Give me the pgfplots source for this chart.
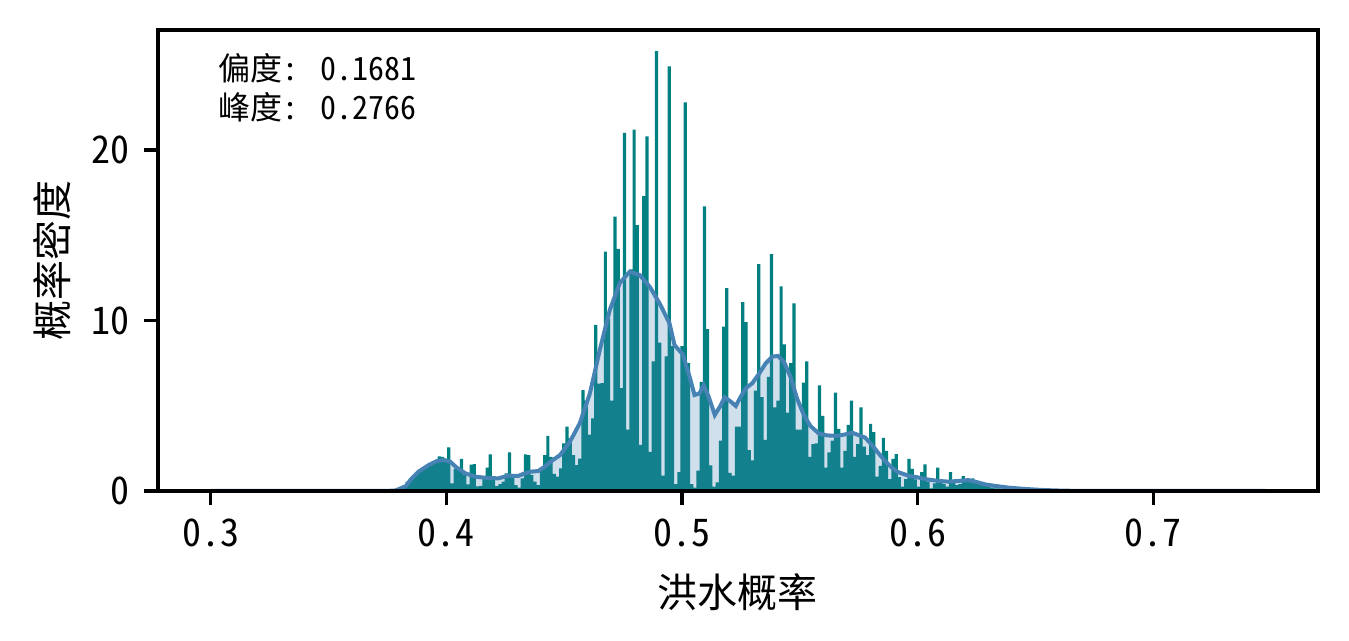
\documentclass[border=0pt]{standalone}
\usepackage{pgfplots}
\pgfplotsset{compat=1.18}
\usepackage{pgfplotstable}
\usepackage{fontspec}
\setmainfont{Noto Sans CJK SC}[RawFeature=+hwid]
\definecolor{barteal}{RGB}{0,128,128}
\definecolor{steel}{RGB}{70,130,180}

% histogram bins: bin index i (bin width 0.00135606 starting at 0.3), density h
\pgfplotstableread{
i h
58 0.1
59 0.2
60 0.35
61 0.55
62 0.75
63 0.9
64 1.0
65 1.17
66 1.3
67 1.43
68 1.62
69 1.65
70 1.72
71 2.03
72 2.0
73 1.9
74 2.56
75 0.45
76 1.3
77 1.35
78 1.88
79 0.94
80 0.39
81 1.55
82 1.58
83 0.27
84 0.3
85 0.74
86 1.37
87 2.15
88 0.65
89 0.29
90 0.4
91 0.55
92 1.04
93 2.27
94 0.94
95 0.35
96 0.2
97 0.74
98 2.15
99 2.11
100 0.94
101 0.55
102 0.35
103 1.23
104 2.11
105 3.23
106 2.0
107 1.0
108 0.85
109 1.33
110 2.8
111 3.77
112 3.09
113 2.1
114 1.52
115 1.9
116 5.92
117 5.3
118 3.3
119 4.26
120 9.74
121 6.3
122 6.32
123 14.04
124 10.1
125 5.3
126 16.1
127 14.2
128 6.03
129 21.0
130 3.6
131 13.0
132 21.2
133 15.6
134 2.7
135 17.3
136 20.8
137 2.3
138 7.6
139 25.8
140 8.7
141 0.9
142 7.9
143 24.9
144 8.5
145 0.4
146 1.1
147 8.5
148 22.8
149 7.5
150 0.4
151 0.2
152 1.2
153 6.4
154 16.7
155 9.5
156 1.5
157 0.25
158 0.5
159 2.95
160 9.64
161 11.9
162 1.07
163 0.9
164 3.77
165 3.77
166 11.08
167 9.9
168 2.4
169 1.8
170 5.88
171 13.3
172 5.5
173 3.0
174 6.7
175 13.9
176 4.9
177 5.3
178 12.0
179 8.6
180 4.6
181 7.5
182 11.0
183 3.6
184 3.6
185 6.35
186 7.6
187 2.0
188 2.75
189 2.8
190 6.2
191 4.4
192 1.37
193 2.26
194 2.96
195 5.77
196 3.64
197 1.37
198 2.36
199 3.88
200 5.3
201 2.0
202 2.75
203 4.9
204 2.6
205 2.1
206 3.93
207 3.46
208 0.84
209 1.48
210 3.11
211 2.35
212 0.7
213 1.88
214 2.17
215 0.82
216 0.25
217 0.7
218 1.88
219 1.3
220 0.68
221 0.25
222 1.1
223 1.56
224 0.55
225 0.16
226 0.45
227 1.37
228 0.55
229 0.4
230 0.25
231 1.1
232 0.55
233 0.35
234 0.4
235 0.87
236 0.64
237 0.64
238 0.74
239 0.64
240 0.55
241 0.4
242 0.3
243 0.25
244 0.2
245 0.15
246 0.15
247 0.12
248 0.1
249 0.08
250 0.07
251 0.06
252 0.05
253 0.04
254 0.04
255 0.03
256 0.03
257 0.02
258 0.02
}\bins

% kernel density curve
\pgfplotstableread{
x y
0.3000 0
0.3741 0
0.3783 0.03
0.3826 0.26
0.3854 0.75
0.3882 1.14
0.3925 1.52
0.3960 1.76
0.3988 1.82
0.4016 1.72
0.4044 1.37
0.4080 1.04
0.4122 0.84
0.4164 0.78
0.4220 0.74
0.4263 0.90
0.4305 0.88
0.4333 1.04
0.4361 1.14
0.4390 1.17
0.4418 1.43
0.4446 1.76
0.4482 2.10
0.4524 2.88
0.4566 3.97
0.4609 5.72
0.4651 8.27
0.4693 10.6
0.4736 12.2
0.4778 12.86
0.4820 12.67
0.4863 11.98
0.4905 11.0
0.4947 9.83
0.4968 8.56
0.5004 8.0
0.5032 6.7
0.5053 5.63
0.5074 5.72
0.5092 6.2
0.5113 5.53
0.5139 4.46
0.5161 4.95
0.5181 5.5
0.5207 5.24
0.5228 4.99
0.5249 5.53
0.5270 6.02
0.5298 6.32
0.5326 6.86
0.5355 7.49
0.5383 7.88
0.5407 7.92
0.5432 7.59
0.5460 6.71
0.5488 5.43
0.5517 4.46
0.5545 3.81
0.5580 3.38
0.5615 3.26
0.5658 3.24
0.5693 3.32
0.5721 3.42
0.5749 3.28
0.5777 3.13
0.5806 2.7
0.5834 2.21
0.5862 1.76
0.5890 1.37
0.5918 1.1
0.5961 0.9
0.6003 0.79
0.6045 0.67
0.6088 0.59
0.6130 0.55
0.6172 0.59
0.6215 0.64
0.6243 0.55
0.6285 0.39
0.6328 0.30
0.6384 0.20
0.6455 0.12
0.6530 0.06
0.6615 0.02
0.6700 0.005
0.7475 0
}\kde

\begin{document}
\begin{tikzpicture}
\path[use as bounding box] (-39.5pt,-37.5pt) rectangle (297.75pt,122.75pt);
\begin{axis}[
  at={(0,0)}, anchor=south west,
  width=290pt, height=115.25pt, scale only axis,
  xmin=0.277625, xmax=0.769875, ymin=0, ymax=27.04,
  xtick={0.3,0.4,0.5,0.6,0.7}, xticklabels={0.3,0.4,0.5,0.6,0.7},
  ytick={0,10,20}, yticklabels={0,10,20},
  tick align=outside, tick pos=left, major tick length=3.5pt,
  tick style={black, line width=0.8pt},
  axis line style={line width=0.8pt},
  ticklabel style={font=\fontsize{9.5}{11}\selectfont},
  xlabel={洪水概率}, ylabel={概率密度},
  label style={font=\fontsize{10}{12}\selectfont},
  every axis x label/.append style={at={(axis description cs:0.5,-0.219)}, anchor=center},
  every axis y label/.append style={at={(axis description cs:-0.0914,0.5)}, anchor=center},
  axis on top,
]
\addplot[ybar, bar width=0.00135606, bar shift=0pt, fill=barteal, draw=none]
  table[x expr={0.3+(\thisrow{i}+0.5)*0.00135606}, y=h] {\bins};
\addplot[draw=none, fill=steel, fill opacity=0.26] table[x=x, y=y] {\kde} \closedcycle;
\addplot[steel, line width=1pt] table[x=x, y=y] {\kde};
\node[anchor=west, inner sep=0pt, font=\fontsize{8}{9}\selectfont] at (axis description cs:0.0517,0.9176) {偏度: 0.1681};
\node[anchor=west, inner sep=0pt, font=\fontsize{8}{9}\selectfont] at (axis description cs:0.0517,0.833) {峰度: 0.2766};
\end{axis}
\end{tikzpicture}
\end{document}
